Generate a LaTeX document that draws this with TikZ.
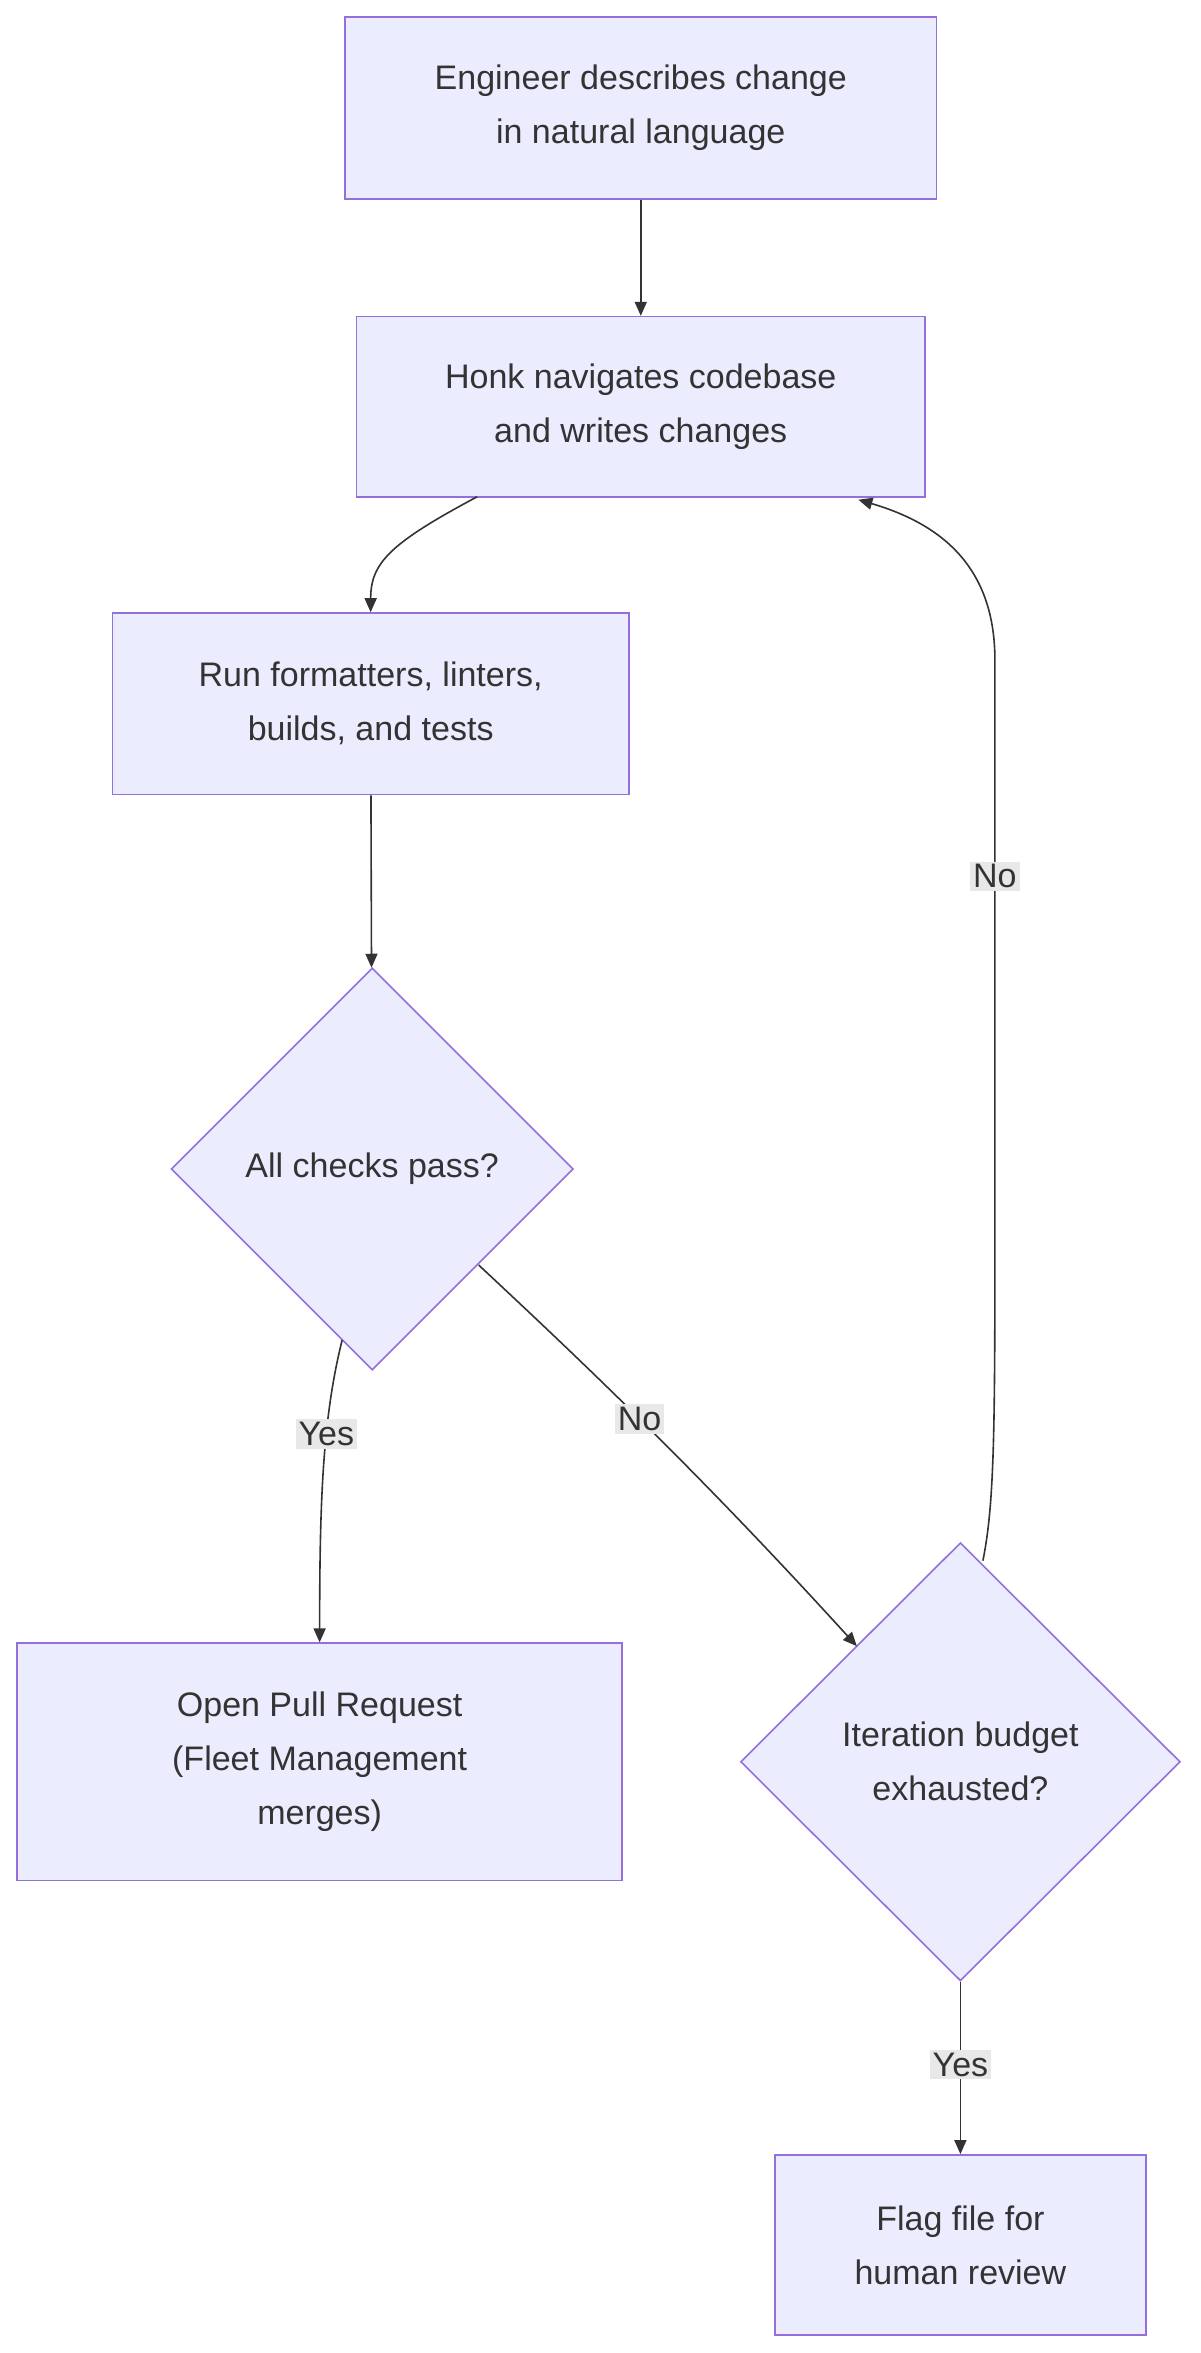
\documentclass[tikz,border=0pt]{standalone}
\usepackage{fontspec}
\setmainfont{Liberation Sans}
\usetikzlibrary{shapes.geometric,arrows.meta}
\definecolor{nfill}{HTML}{ECECFF}
\definecolor{nline}{HTML}{9370DB}
\definecolor{ntext}{HTML}{333333}
\definecolor{lbg}{HTML}{E8E8E8}
\begin{document}
\begin{tikzpicture}[x=0.75pt,y=-0.75pt,
  box/.style={draw=nline,fill=nfill,line width=0.8pt,text=ntext,align=center,font=\fontsize{17}{27}\selectfont,inner sep=0pt},
  dia/.style={draw=nline,fill=nfill,line width=0.8pt,text=ntext,align=center,font=\fontsize{17}{27}\selectfont,diamond,inner sep=0pt},
  arr/.style={draw=ntext,line width=0.8pt,-{Triangle[length=7pt,width=6pt]}},
  lab/.style={fill=lbg,text=ntext,font=\fontsize{17}{20}\selectfont,inner sep=1.5pt}]
\useasboundingbox (0,0) rectangle (800,1568);
\node[box,minimum width=394*0.75pt,minimum height=121*0.75pt] (A) at (427,72) {Engineer describes change\\in natural language};
\node[box,minimum width=379*0.75pt,minimum height=120*0.75pt] (B) at (427,271) {Honk navigates codebase\\and writes changes};
\node[box,minimum width=344*0.75pt,minimum height=121*0.75pt] (C) at (247,469) {Run formatters, linters,\\builds, and tests};
\node[dia,minimum width=268*0.75pt,minimum height=268*0.75pt] (D) at (248,779) {All checks pass?};
\node[box,minimum width=403*0.75pt,minimum height=158*0.75pt] (E) at (213,1174) {Open Pull Request\\(Fleet Management\\merges)};
\node[dia,minimum width=293*0.75pt,minimum height=292*0.75pt] (F) at (640,1174) {Iteration budget\\exhausted?};
\node[box,minimum width=247*0.75pt,minimum height=120*0.75pt] (G) at (640,1496) {Flag file for\\human review};
\coordinate (b1) at (318,331);
\coordinate (b2) at (572,333);
\coordinate (f1) at (655,1040);
\coordinate (d1) at (228,893);
\coordinate (d2) at (319,843);
\coordinate (f2) at (571,1097);
\draw[arr] (A) -- (B);
\draw[arr] (b1) .. controls (260,362) and (247,375) .. (C.north);
\draw[arr] (C) -- (D);
\draw[arr] (d1) .. controls (215,945) and (213,1000) .. node[lab,pos=0.38]{Yes} (E.north);
\draw[arr] (d2) .. controls (380,900) and (460,975) .. node[lab,pos=0.5]{No} (f2);
\draw[arr] (f1) .. controls (663,1000) and (663,950) .. (663,800) -- node[lab,pos=0.6]{No} (663,440) .. controls (663,380) and (630,350) .. (b2);
\draw[arr] (F) -- node[lab,pos=0.48]{Yes} (G);
\end{tikzpicture}
\end{document}
